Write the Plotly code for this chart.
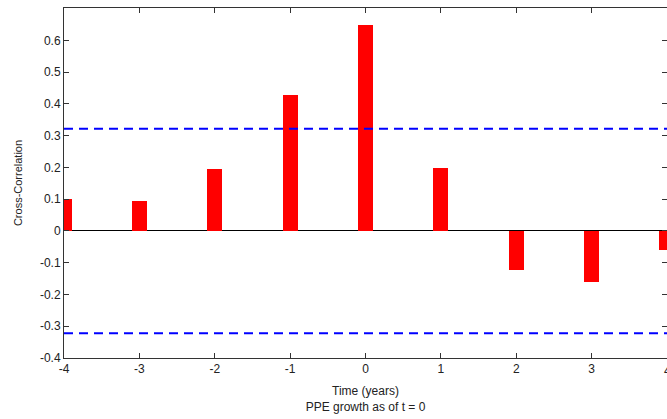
import plotly.graph_objects as go

lags = [-4, -3, -2, -1, 0, 1, 2, 3, 4]
xcorr = [0.100, 0.095, 0.194, 0.428, 0.647, 0.197, -0.123, -0.160, -0.060]
conf_upper = 0.322
conf_lower = -0.322
x_ticks = [-4, -3, -2, -1, 0, 1, 2, 3, 4]
x_labels = ["-4", "-3", "-2", "-1", "0", "1", "2", "3", "4"]
y_ticks = [-0.4, -0.3, -0.2, -0.1, 0, 0.1, 0.2, 0.3, 0.4, 0.5, 0.6]
y_labels = ["-0.4", "-0.3", "-0.2", "-0.1", "0", "0.1", "0.2", "0.3", "0.4", "0.5", "0.6"]

font = "Liberation Sans, Arial, sans-serif"

fig = go.Figure()
fig.add_trace(go.Bar(x=lags, y=xcorr, width=0.2, marker=dict(color="#ff0000", line=dict(width=0)),
                     showlegend=False))
for c in (conf_upper, conf_lower):
    fig.add_trace(go.Scatter(x=[x_ticks[0], x_ticks[-1]], y=[c, c], mode="lines",
                             line=dict(color="#0000ff", width=2, dash="9px,6px"), showlegend=False))

fig.update_layout(
    width=667, height=419,
    margin=dict(l=64, r=0, t=8, b=61),
    paper_bgcolor="white", plot_bgcolor="white",
    font=dict(family=font, size=12, color="#222"),
    bargap=0,
)
fig.update_xaxes(range=[-4, 4.0], tickvals=x_ticks, ticktext=x_labels, ticks="inside", ticklen=5,
                 tickcolor="#333", automargin=False,
                 showline=True, linecolor="#333", linewidth=1, mirror="ticks", showgrid=False,
                 zeroline=False,
                 title=dict(text="Time (years)<br>PPE growth as of t = 0", font=dict(size=12), standoff=11),
                 tickfont=dict(size=12))
fig.update_yaxes(range=[-0.4, 0.702], tickvals=y_ticks, ticktext=y_labels, ticks="inside", ticklen=5,
                 tickcolor="#333", automargin=False, showline=True, linecolor="#333", linewidth=1,
                 mirror="ticks",
                 showgrid=False, zeroline=True, zerolinecolor="#000", zerolinewidth=1,
                 title=dict(text="Cross-Correlation", font=dict(size=11), standoff=15),
                 tickfont=dict(size=12))

# last tick label sits on the clipped right edge, as in the reference
fig.add_annotation(x=x_ticks[-1], xref="x", y=0, yref="paper", yanchor="top", yshift=-4,
                   text=x_labels[-1], showarrow=False, font=dict(size=12, color="#222"))

fig.write_html("out.html", config={"displayModeBar": False},
               post_script="document.body.style.margin='0';document.body.style.overflow='hidden';")
